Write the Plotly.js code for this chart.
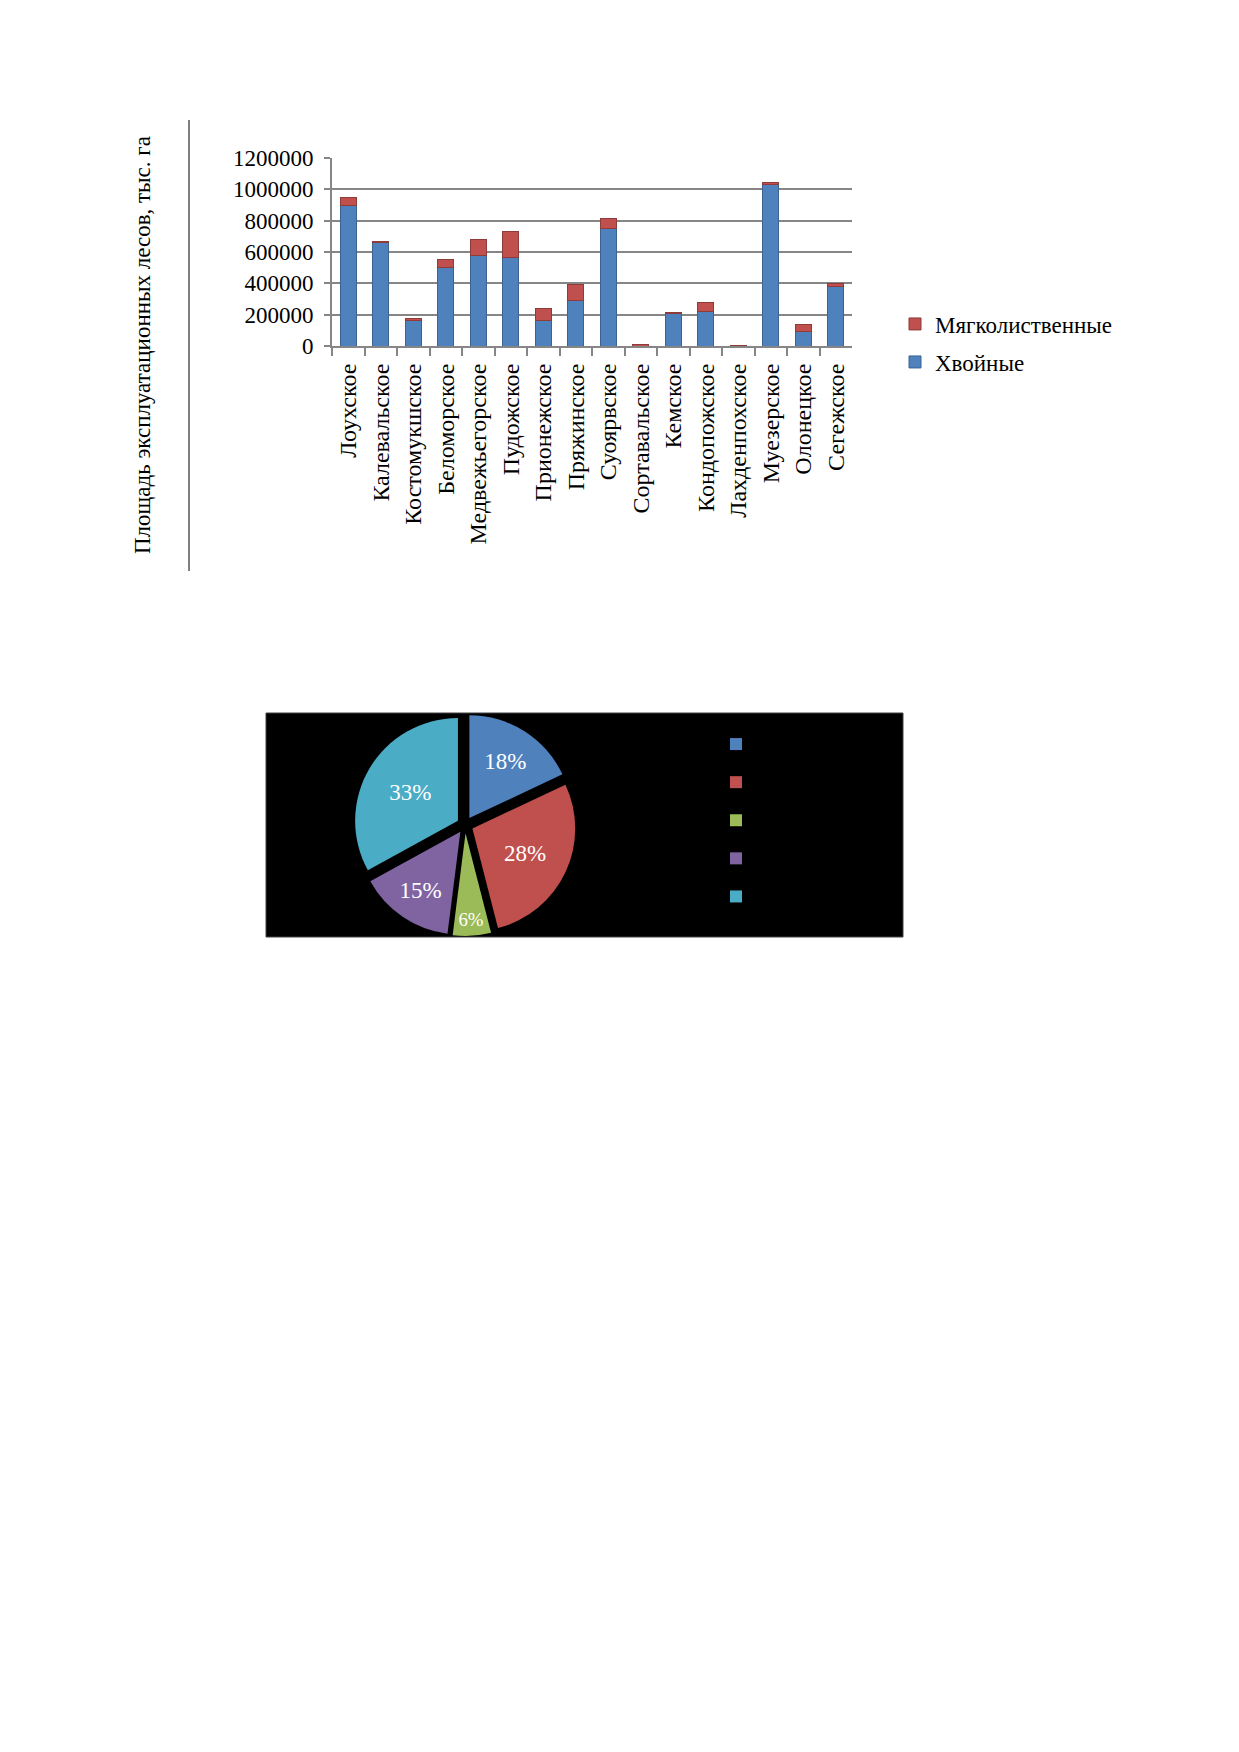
<!DOCTYPE html>
<html>
<head>
<meta charset="utf-8">
<script src="https://cdn.plot.ly/plotly-3.0.1.min.js"></script>
<style>
  html, body { margin: 0; padding: 0; background: #ffffff; }
  #chart { width: 1239px; height: 1752px; }
</style>
</head>
<body>
<div id="chart"></div>
<script>
// лесничества
const districts = ['Лоухское', 'Калевальское', 'Костомукшское', 'Беломорское', 'Медвежьегорское',
    'Пудожское', 'Прионежское', 'Пряжинское', 'Суоярвское', 'Сортавальское', 'Кемское',
    'Кондопожское', 'Лахденпохское', 'Муезерское', 'Олонецкое', 'Сегежское'];
const coniferous = [900000, 660000, 165000, 500000, 575000, 565000, 160000, 290000,
    750000, 0, 205000, 220000, 0, 1030000, 90000, 380000];
const softwood = [50000, 10000, 10000, 55000, 105000, 165000, 80000, 105000,
    65000, 8000, 10000, 55000, 5000, 15000, 45000, 17000];
const yTicks = [0, 200000, 400000, 600000, 800000, 1000000, 1200000];

// круговая диаграмма (подписи категорий в оригинале не видны: чёрный текст на чёрном)
const pieLabels = ['Сосна', 'Ель', 'Берёза', 'Осина', 'Прочие'];
const pieValues = [18, 28, 6, 15, 33];
const pieColors = ['#4F81BD', '#C0504D', '#9BBB59', '#8064A2', '#4BACC6'];

const W = 1239, H = 1752;
const px = (x) => x / W;
const py = (y) => 1 - y / H;
const serif = 'Liberation Serif, Times New Roman, serif';

const barConifer = {
    x: districts,
    y: coniferous,
    name: 'Хвойные',
    type: 'bar',
    width: 0.5,
    marker: {color: '#4F81BD', line: {color: '#3A6394', width: 1}},
    showlegend: true,
    legend: 'legend3',
};

const barSoft = {
    x: districts,
    y: softwood,
    name: 'Мягколиственные',
    type: 'bar',
    width: 0.5,
    marker: {color: '#C0504D', line: {color: '#8E3B39', width: 1}},
    showlegend: true,
    legend: 'legend',
};

const pie = {
    type: 'pie',
    labels: pieLabels,
    values: pieValues,
    sort: false,
    direction: 'clockwise',
    rotation: 0,
    pull: [0.08, 0.08, 0.08, 0.08, 0.08],
    marker: {colors: pieColors, line: {width: 0}},
    textinfo: 'percent',
    texttemplate: '%{percent:.0%}',
    textposition: 'inside',
    insidetextorientation: 'horizontal',
    textfont: {family: serif, size: 23, color: '#ffffff'},
    domain: {x: [px(268), px(662)], y: [py(936), py(714)]},
    showlegend: true,
    legend: 'legend2',
};

const data = [barConifer, barSoft, pie];

const barLegend = (y) => ({
    x: px(895),
    y: py(y),
    xanchor: 'left',
    yanchor: 'middle',
    bgcolor: 'rgba(0,0,0,0)',
    font: {family: serif, size: 23, color: '#000000'},
    itemwidth: 30,
    visible: true,
});

const layout = {
    width: W,
    height: H,
    margin: {l: 0, r: 0, t: 0, b: 0},
    paper_bgcolor: '#ffffff',
    plot_bgcolor: 'rgba(0,0,0,0)',
    barmode: 'stack',
    showlegend: true,
    font: {family: serif, size: 22, color: '#000000'},
    xaxis: {
        domain: [px(332), px(852)],
        anchor: 'y',
        showline: true,
        linecolor: '#868686',
        linewidth: 2,
        ticks: 'outside',
        tickson: 'boundaries',
        ticklen: 8,
        tickcolor: '#868686',
        tickwidth: 2,
        tickangle: -90,
        ticklabelstandoff: 6,
        tickfont: {family: serif, size: 24, color: '#000000'},
        showgrid: false,
    },
    yaxis: {
        domain: [py(346), py(158)],
        anchor: 'x',
        range: [0, 1200000],
        tickvals: yTicks,
        ticktext: yTicks.map(String),
        showline: true,
        linecolor: '#868686',
        linewidth: 2,
        ticks: 'outside',
        ticklen: 6,
        tickcolor: '#868686',
        tickwidth: 2,
        ticklabelstandoff: 6,
        gridcolor: '#868686',
        gridwidth: 2,
        zeroline: false,
        tickfont: {family: serif, size: 23, color: '#000000'},
    },
    legend: barLegend(324),
    legend3: barLegend(362),
    legend2: {
        x: px(716),
        y: py(720),
        xanchor: 'left',
        yanchor: 'top',
        bgcolor: 'rgba(0,0,0,0)',
        font: {family: serif, size: 27, color: '#000000'},
        itemwidth: 30,
        visible: true,
    },
    shapes: [
        // вертикальная линия у подписи оси
        {type: 'line', xref: 'paper', yref: 'paper',
         x0: px(189), x1: px(189), y0: py(120), y1: py(571),
         line: {color: '#000000', width: 1}},
        // чёрный фон круговой диаграммы
        {type: 'rect', xref: 'paper', yref: 'paper', layer: 'below',
         x0: px(266), x1: px(903), y0: py(937), y1: py(713),
         fillcolor: '#000000', line: {color: '#404040', width: 1}},
    ],
    annotations: [
        {text: 'Площадь эксплуатационных лесов, тыс. га',
         xref: 'paper', yref: 'paper', x: px(143), y: py(345),
         xanchor: 'center', yanchor: 'middle',
         textangle: -90, showarrow: false,
         font: {family: serif, size: 23, color: '#000000'}},
    ],
};

Plotly.newPlot('chart', data, layout, {displayModeBar: false, staticPlot: true});
</script>
</body>
</html>
